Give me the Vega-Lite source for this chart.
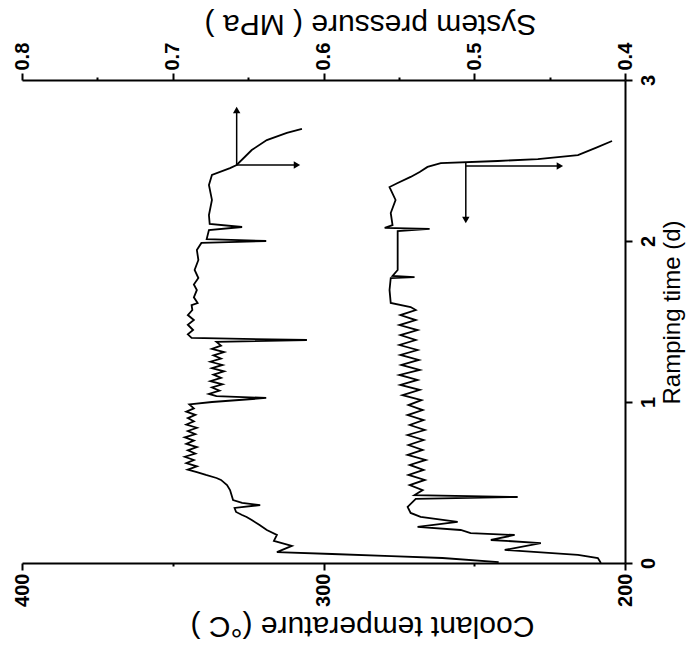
{
  "$schema": "https://vega.github.io/schema/vega-lite/v6.json",
  "width": 603,
  "height": 483,
  "autosize": {"type": "none"},
  "padding": {"left": 22, "top": 80, "right": 66, "bottom": 82},
  "background": "white",
  "config": {
    "view": {"stroke": null},
    "axis": {
      "grid": false,
      "domainColor": "black",
      "domainWidth": 2,
      "tickColor": "black",
      "tickWidth": 2,
      "tickSize": 7,
      "labelColor": "black",
      "titleColor": "black",
      "labelFont": "Liberation Sans",
      "titleFont": "Liberation Sans",
      "labelFontSize": 20,
      "labelFontWeight": "bold",
      "titleFontSize": 30,
      "titleFontWeight": "normal",
      "labelFlush": false,
      "labelOverlap": false
    }
  },
  "datasets": {
    "pressure": [
      {"t": 0.006, "p": 0.4838}, {"t": 0.031, "p": 0.5211}, {"t": 0.043, "p": 0.5551}, {"t": 0.056, "p": 0.5943},
      {"t": 0.068, "p": 0.6309}, {"t": 0.106, "p": 0.6210}, {"t": 0.137, "p": 0.6329}, {"t": 0.174, "p": 0.6309},
      {"t": 0.205, "p": 0.6376}, {"t": 0.236, "p": 0.6424}, {"t": 0.267, "p": 0.6476},
      {"t": 0.286, "p": 0.651}, {"t": 0.298, "p": 0.654}, {"t": 0.317, "p": 0.658}, {"t": 0.342, "p": 0.659},
      {"t": 0.360, "p": 0.642}, {"t": 0.373, "p": 0.654}, {"t": 0.391, "p": 0.660}, {"t": 0.422, "p": 0.661},
      {"t": 0.453, "p": 0.662}, {"t": 0.484, "p": 0.664}, {"t": 0.516, "p": 0.668}, {"t": 0.528, "p": 0.671},
      {"t": 0.547, "p": 0.678}, {"t": 0.565, "p": 0.684}, {"t": 0.580, "p": 0.690}, {"t": 0.600, "p": 0.684},
      {"t": 0.620, "p": 0.691}, {"t": 0.640, "p": 0.686}, {"t": 0.660, "p": 0.692}, {"t": 0.680, "p": 0.685},
      {"t": 0.700, "p": 0.690}, {"t": 0.720, "p": 0.684}, {"t": 0.740, "p": 0.691}, {"t": 0.760, "p": 0.686},
      {"t": 0.780, "p": 0.692}, {"t": 0.800, "p": 0.685}, {"t": 0.820, "p": 0.690}, {"t": 0.840, "p": 0.684},
      {"t": 0.860, "p": 0.691}, {"t": 0.880, "p": 0.686}, {"t": 0.900, "p": 0.690}, {"t": 0.920, "p": 0.685},
      {"t": 0.940, "p": 0.691}, {"t": 0.960, "p": 0.686}, {"t": 0.985, "p": 0.689}, {"t": 1.000, "p": 0.674},
      {"t": 1.025, "p": 0.638}, {"t": 1.037, "p": 0.671}, {"t": 1.050, "p": 0.676}, {"t": 1.070, "p": 0.669},
      {"t": 1.090, "p": 0.674}, {"t": 1.110, "p": 0.667}, {"t": 1.130, "p": 0.675}, {"t": 1.150, "p": 0.668},
      {"t": 1.170, "p": 0.673}, {"t": 1.190, "p": 0.666}, {"t": 1.210, "p": 0.674}, {"t": 1.230, "p": 0.667},
      {"t": 1.250, "p": 0.675}, {"t": 1.270, "p": 0.668}, {"t": 1.290, "p": 0.673}, {"t": 1.310, "p": 0.666},
      {"t": 1.330, "p": 0.674}, {"t": 1.350, "p": 0.668}, {"t": 1.373, "p": 0.671}, {"t": 1.385, "p": 0.611},
      {"t": 1.398, "p": 0.6875}, {"t": 1.420, "p": 0.690}, {"t": 1.447, "p": 0.6865}, {"t": 1.480, "p": 0.690},
      {"t": 1.509, "p": 0.686}, {"t": 1.540, "p": 0.690}, {"t": 1.571, "p": 0.687}, {"t": 1.602, "p": 0.6875},
      {"t": 1.615, "p": 0.6835}, {"t": 1.650, "p": 0.686}, {"t": 1.696, "p": 0.684}, {"t": 1.730, "p": 0.686},
      {"t": 1.770, "p": 0.683}, {"t": 1.820, "p": 0.6855}, {"t": 1.882, "p": 0.683}, {"t": 1.944, "p": 0.684},
      {"t": 1.988, "p": 0.681}, {"t": 2.000, "p": 0.638}, {"t": 2.012, "p": 0.6775}, {"t": 2.068, "p": 0.676},
      {"t": 2.087, "p": 0.654}, {"t": 2.106, "p": 0.6755}, {"t": 2.161, "p": 0.676}, {"t": 2.255, "p": 0.674},
      {"t": 2.348, "p": 0.676}, {"t": 2.410, "p": 0.674}, {"t": 2.453, "p": 0.662}, {"t": 2.472, "p": 0.6576},
      {"t": 2.565, "p": 0.6476}, {"t": 2.627, "p": 0.6376}, {"t": 2.671, "p": 0.6243}, {"t": 2.696, "p": 0.6143}
    ],
    "temp": [
      {"t": 0.000, "T": 208.0}, {"t": 0.031, "T": 209.0}, {"t": 0.050, "T": 215.6}, {"t": 0.081, "T": 239.9},
      {"t": 0.124, "T": 227.9}, {"t": 0.143, "T": 244.5}, {"t": 0.174, "T": 236.6}, {"t": 0.186, "T": 251.2},
      {"t": 0.205, "T": 254.5}, {"t": 0.224, "T": 268.8}, {"t": 0.255, "T": 255.5}, {"t": 0.286, "T": 267.8},
      {"t": 0.311, "T": 271.1}, {"t": 0.348, "T": 272.1}, {"t": 0.398, "T": 269.4}, {"t": 0.410, "T": 235.6},
      {"t": 0.422, "T": 269.8}, {"t": 0.453, "T": 267.1}, {"t": 0.484, "T": 271.4}, {"t": 0.516, "T": 266.4},
      {"t": 0.547, "T": 271.8}, {"t": 0.578, "T": 266.8}, {"t": 0.609, "T": 271.4}, {"t": 0.640, "T": 266.1},
      {"t": 0.671, "T": 272.1}, {"t": 0.702, "T": 267.1}, {"t": 0.733, "T": 271.8}, {"t": 0.764, "T": 266.8},
      {"t": 0.795, "T": 272.1}, {"t": 0.826, "T": 266.4}, {"t": 0.857, "T": 271.4}, {"t": 0.888, "T": 266.8},
      {"t": 0.919, "T": 272.1}, {"t": 0.950, "T": 267.1}, {"t": 0.981, "T": 271.8}, {"t": 1.012, "T": 267.5},
      {"t": 1.043, "T": 273.8}, {"t": 1.075, "T": 268.1}, {"t": 1.106, "T": 274.5}, {"t": 1.137, "T": 268.8},
      {"t": 1.168, "T": 274.8}, {"t": 1.199, "T": 268.1}, {"t": 1.230, "T": 274.2}, {"t": 1.261, "T": 268.4},
      {"t": 1.292, "T": 274.5}, {"t": 1.323, "T": 268.8}, {"t": 1.354, "T": 274.8}, {"t": 1.385, "T": 269.4},
      {"t": 1.416, "T": 274.5}, {"t": 1.447, "T": 268.8}, {"t": 1.478, "T": 274.8}, {"t": 1.509, "T": 269.4},
      {"t": 1.540, "T": 274.5}, {"t": 1.571, "T": 269.4}, {"t": 1.590, "T": 271.1}, {"t": 1.615, "T": 277.7},
      {"t": 1.696, "T": 278.1}, {"t": 1.770, "T": 277.7}, {"t": 1.776, "T": 269.8}, {"t": 1.783, "T": 277.1},
      {"t": 1.820, "T": 275.4}, {"t": 2.006, "T": 275.4}, {"t": 2.062, "T": 275.4}, {"t": 2.075, "T": 264.8},
      {"t": 2.081, "T": 279.7}, {"t": 2.099, "T": 277.1}, {"t": 2.174, "T": 277.7}, {"t": 2.255, "T": 276.1},
      {"t": 2.335, "T": 278.1}, {"t": 2.360, "T": 275.4}, {"t": 2.398, "T": 271.1}, {"t": 2.429, "T": 268.1},
      {"t": 2.460, "T": 265.5}, {"t": 2.484, "T": 261.1}, {"t": 2.497, "T": 242.2}, {"t": 2.509, "T": 228.9},
      {"t": 2.534, "T": 215.6}, {"t": 2.580, "T": 209.5}, {"t": 2.621, "T": 204.3}
    ],
    "parrows": [
      {"t1": 2.472, "p1": 0.6576, "t2": 2.814, "p2": 0.6576, "dir": "up"},
      {"t1": 2.472, "p1": 0.6576, "t2": 2.472, "p2": 0.6176, "dir": "right"}
    ],
    "tarrows": [
      {"t1": 2.484, "T1": 252.8, "t2": 2.130, "T2": 252.8, "dir": "down"},
      {"t1": 2.466, "T1": 252.8, "t2": 2.466, "T2": 221.6, "dir": "right"}
    ]
  },
  "layer": [
    {
      "layer": [
        {
          "data": {"name": "pressure"},
          "mark": {"type": "line", "color": "black", "strokeWidth": 1.8},
          "encoding": {
            "x": {
              "field": "p", "type": "quantitative",
              "scale": {"domain": [0.4, 0.8], "reverse": true, "zero": false, "nice": false},
              "axis": {
                "orient": "top", "values": [0.4, 0.45, 0.5, 0.55, 0.6, 0.65, 0.7, 0.75, 0.8],
                "labelExpr": "abs(datum.value*10 - round(datum.value*10)) > 0.01 ? '' : format(datum.value, '.1f')",
                "tickSize": {"condition": {"test": "abs(datum.value*10 - round(datum.value*10)) > 0.01", "value": 3}, "value": 7},
                "labelAngle": -90, "labelAlign": "left", "labelBaseline": "middle", "labelPadding": 3,
                "title": "System pressure ( MPa )", "titleAngle": 180, "titleBaseline": "middle",
                "titleX": 348, "titleY": -57
              }
            },
            "y": {
              "field": "t", "type": "quantitative",
              "scale": {"domain": [0, 3], "zero": false, "nice": false},
              "axis": {
                "orient": "right", "values": [0, 1, 2, 3], "format": "d",
                "labelAngle": -90, "labelAlign": "center", "labelBaseline": "top", "labelPadding": 6,
                "title": "Ramping time (d)", "titleAngle": -90, "titleBaseline": "middle", "titleAlign": "center",
                "titleFontSize": 24, "titleX": 47, "titleY": 232
              }
            },
            "order": {"value": null}
          }
        },
        {
          "data": {"name": "parrows"},
          "mark": {"type": "rule", "color": "black", "strokeWidth": 1.5},
          "encoding": {
            "x": {"field": "p1", "type": "quantitative"},
            "x2": {"field": "p2"},
            "y": {"field": "t1", "type": "quantitative", "title": "Ramping time (d)"},
            "y2": {"field": "t2"}
          }
        },
        {
          "data": {"name": "parrows"},
          "mark": {"type": "point", "filled": true, "color": "black", "size": 55, "opacity": 1},
          "encoding": {
            "x": {"field": "p2", "type": "quantitative"},
            "y": {"field": "t2", "type": "quantitative", "title": "Ramping time (d)"},
            "shape": {"field": "dir", "type": "nominal", "legend": null,
              "scale": {"domain": ["up", "down", "right", "left"], "range": ["triangle-up", "triangle-down", "triangle-right", "triangle-left"]}}
          }
        }
      ]
    },
    {
      "layer": [
        {
          "data": {"name": "temp"},
          "mark": {"type": "line", "color": "black", "strokeWidth": 1.8},
          "encoding": {
            "x": {
              "field": "T", "type": "quantitative",
              "scale": {"domain": [200, 400], "reverse": true, "zero": false, "nice": false},
              "axis": {
                "orient": "bottom", "values": [200, 250, 300, 350, 400],
                "labelExpr": "datum.value % 100 != 0 ? '' : format(datum.value, 'd')",
                "tickSize": {"condition": {"test": "datum.value % 100 != 0", "value": 3}, "value": 7},
                "labelAngle": -90, "labelAlign": "right", "labelBaseline": "middle", "labelPadding": 3,
                "title": "Coolant  temperature (°C )", "titleAngle": 180, "titleBaseline": "middle",
                "titleX": 340, "titleY": 62
              }
            },
            "y": {"field": "t", "type": "quantitative", "title": "Ramping time (d)"},
            "order": {"value": null}
          }
        },
        {
          "data": {"name": "tarrows"},
          "mark": {"type": "rule", "color": "black", "strokeWidth": 1.5},
          "encoding": {
            "x": {"field": "T1", "type": "quantitative"},
            "x2": {"field": "T2"},
            "y": {"field": "t1", "type": "quantitative", "title": "Ramping time (d)"},
            "y2": {"field": "t2"}
          }
        },
        {
          "data": {"name": "tarrows"},
          "mark": {"type": "point", "filled": true, "color": "black", "size": 55, "opacity": 1},
          "encoding": {
            "x": {"field": "T2", "type": "quantitative"},
            "y": {"field": "t2", "type": "quantitative", "title": "Ramping time (d)"},
            "shape": {"field": "dir", "type": "nominal", "legend": null,
              "scale": {"domain": ["up", "down", "right", "left"], "range": ["triangle-up", "triangle-down", "triangle-right", "triangle-left"]}}
          }
        }
      ]
    }
  ],
  "resolve": {"scale": {"x": "independent"}}
}
